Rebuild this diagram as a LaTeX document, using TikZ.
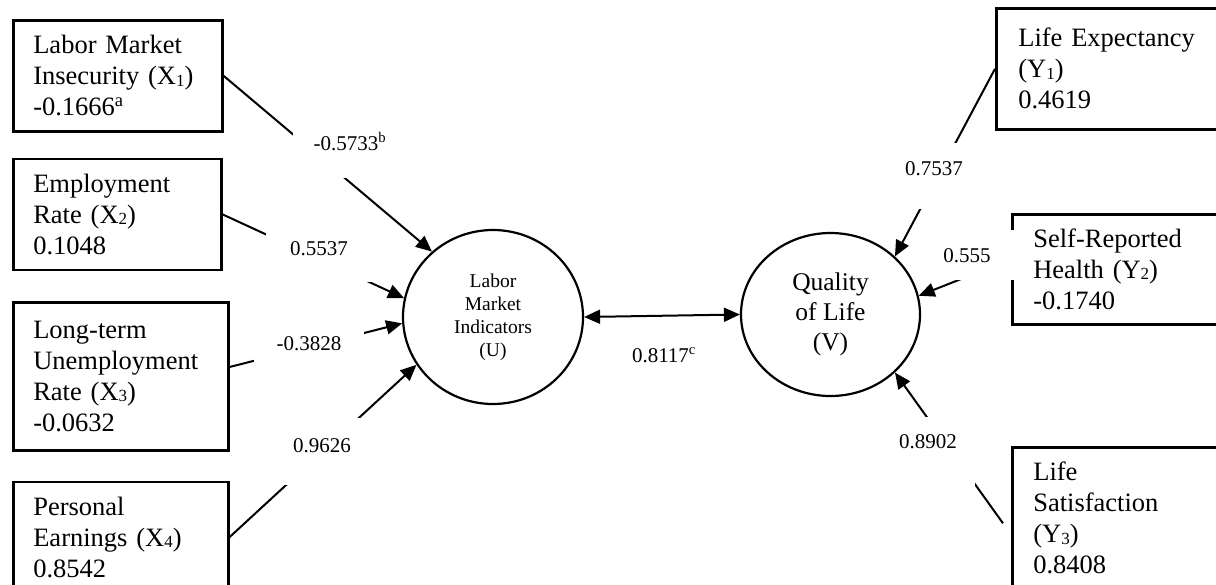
\documentclass[tikz,border=0pt]{standalone}
\usepackage{fontspec}
\setmainfont{Liberation Serif}
\usetikzlibrary{arrows.meta,positioning,shapes.geometric}
\newcommand{\boxfont}{\fontsize{26.5}{31}\selectfont}
\newcommand{\coeffont}{\fontsize{21}{24}\selectfont}
\newcommand{\idx}[1]{\raisebox{-1.5pt}{\fontsize{17}{17}\selectfont #1}}
\tikzset{
	indicator/.style={draw, line width=2.6pt, align=left, font=\boxfont, inner xsep=20pt, inner ysep=0pt, anchor=north west},
	latent/.style={draw, ellipse, line width=2.2pt, align=center, inner sep=0pt},
	arrow/.style={-{Triangle[length=16pt,width=14pt]}, line width=2pt},
	biarrow/.style={{Triangle[length=16pt,width=14pt]}-{Triangle[length=16pt,width=14pt]}, line width=2pt},
	coef/.style={fill=white, font=\coeffont, inner sep=0pt, anchor=base}
}

\begin{document}
\begin{tikzpicture}[x=1pt, y=-1pt]
	\useasboundingbox (0,0) rectangle (1216,584);
	\clip (0,0) rectangle (1216,584);
	% labor market indicators
	\node[indicator, minimum width=209pt, text width=169pt, minimum height=111pt] (x1) at (12,19) {Labor Market\\Insecurity (X\idx{1})\\-0.1666\textsuperscript{a}};
	\node[indicator, below=25pt of x1.south west, anchor=north west, minimum width=208pt, text width=168pt, minimum height=111pt] (x2) {Employment\\Rate (X\idx{2})\\0.1048};
	\node[indicator, below=30pt of x2.south west, anchor=north west, minimum width=215pt, text width=175pt, minimum height=148pt] (x3) {Long-term\\Unemployment\\Rate (X\idx{3})\\-0.0632};
	\node[indicator, below=29pt of x3.south west, anchor=north west, minimum width=215pt, text width=175pt, minimum height=110pt] (x4) {Personal\\Earnings (X\idx{4})\\0.8542};
	% quality of life indicators
	\node[indicator, inner xsep=22pt, minimum width=280pt, text width=236pt, minimum height=121pt] (y1) at (995,7) {Life Expectancy\\(Y\idx{1})\\0.4619};
	\node[indicator, inner xsep=21pt, minimum width=280pt, text width=238pt, minimum height=110pt] (y2) at (1011,213) {Self-Reported\\Health (Y\idx{2})\\-0.1740};
	\node[indicator, inner xsep=21pt, minimum width=280pt, text width=238pt, minimum height=142pt] (y3) at (1011,446) {Life\\Satisfaction\\(Y\idx{3})\\0.8408};
	% latent variables
	\node[latent, minimum width=180pt, minimum height=174pt, font=\fontsize{19.5}{23}\selectfont] (u) at (493,317) {Labor\\Market\\Indicators\\(U)};
	\node[latent, minimum width=179pt, minimum height=163pt, font=\fontsize{25.5}{30}\selectfont] (v) at (830.5,314.5) {Quality\\of Life\\(V)};

	\draw[arrow] (x1.east) -- (u.133);
	\draw[arrow] (x2.east) -- (u.168);
	\draw[arrow] (x3.5) -- (u.184);
	\draw[arrow] (x4.east) -- (u.212);
	\draw[arrow] (y1.west) -- (v.42);
	\draw[arrow] ([yshift=10pt]y2.west) -- (v.12);
	\draw[arrow] ([xshift=-8pt,yshift=-5pt]y3.west) -- (v.318);
	\draw[biarrow] (u.east) -- (v.west);

	% loadings
	\node[coef, minimum width=114pt, text height=17pt, text depth=28pt] (lx1) at (350,150) {-0.5733\textsuperscript{b}};
	\node[coef, minimum width=106pt, text height=24pt, text depth=27pt] (lx2) at (319,255) {0.5537};
	\node[coef, minimum width=110pt, text height=20pt, text depth=20pt] (lx3) at (309,350) {-0.3828};
	\node[coef, minimum width=78pt, text height=34pt, text depth=33pt] (lx4) at (322,452) {0.9626};
	\node[coef] (luv) at (664,362) {0.8117\textsuperscript{c}};
	\node[coef, minimum width=68pt, text height=32pt, text depth=34pt] (ly1) at (934,175) {0.7537};
	\node[coef, minimum width=98pt, text height=32pt, text depth=18pt] (ly2) at (967,262) {0.555};
	\node[coef, minimum width=94pt, text height=31pt, text depth=42pt] (ly3) at (928,448) {0.8902};
\end{tikzpicture}
\end{document}
